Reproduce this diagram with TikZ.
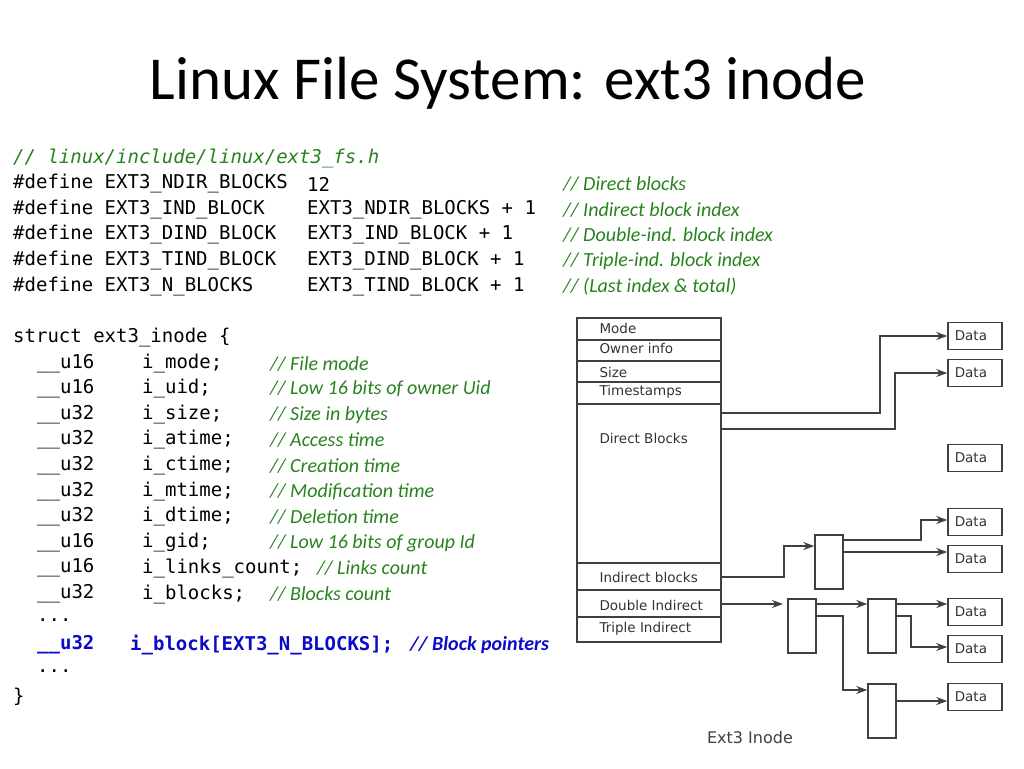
\documentclass[tikz,border=0pt]{standalone}
\usepackage{fontspec}
\setmainfont{Carlito}
\newfontfamily\codefont{DejaVu Sans Mono}
\newfontfamily\figfont{DejaVu Sans}
\usetikzlibrary{positioning,arrows.meta}

\definecolor{cmtgreen}{RGB}{40,130,30}
\definecolor{ptrblue}{RGB}{10,10,200}

\tikzset{
    code/.style={anchor=west, inner sep=0pt, font=\codefont\fontsize{19}{19}\selectfont},
    cmt/.style={anchor=west, inner sep=0pt, text=cmtgreen, font=\itshape\fontsize{20}{20}\selectfont},
    field/.style={draw=black!75, line width=1.5pt, minimum width=144pt, anchor=north west, inner sep=0pt},
    lbl/.style={font=\figfont\fontsize{13.5}{13.5}\selectfont, text=black!80},
    blk/.style={draw=black!75, line width=1.5pt, minimum width=54pt, minimum height=27pt, inner sep=0pt},
    ptr/.style={draw=black!75, line width=1.5pt, minimum width=28pt, minimum height=54pt, inner sep=0pt},
    link/.style={draw=black!75, line width=1.5pt, -{Stealth[length=11pt,width=8pt]}}
}

\begin{document}
\begin{tikzpicture}[x=1pt,y=-1pt]
    \useasboundingbox (0,0) rectangle (1024,768);
    \node (title) at (508,83) {\fontsize{61}{61}\selectfont Linux File System: ext3 inode};

    % header
    \node[code, text=cmtgreen] (h0) at (13,158) {\itshape // linux/include/linux/ext3\_fs.h};
    \foreach \n/\y/\a/\b/\c in {
        1/184/EXT3\_NDIR\_BLOCKS/12/Direct blocks,
        2/210/EXT3\_IND\_BLOCK/EXT3\_NDIR\_BLOCKS + 1/Indirect block index,
        3/235/EXT3\_DIND\_BLOCK/EXT3\_IND\_BLOCK + 1/Double-ind. block index,
        4/261/EXT3\_TIND\_BLOCK/EXT3\_DIND\_BLOCK + 1/Triple-ind. block index,
        5/287/EXT3\_N\_BLOCKS/EXT3\_TIND\_BLOCK + 1/(Last index \& total)}{
        \node[code] (d\n) at (13,\y) {\#define \a};
        \node[code] (v\n) at (307,\y) {\b};
        \node[cmt] (c\n) at (563,\y) {// \c};
    }

    % struct
    \node[code] (s0) at (13,338) {struct ext3\_inode \{};
    \foreach \n/\y/\t/\f/\c in {
        1/364/\_\_u16/i\_mode;/File mode,
        2/389/\_\_u16/i\_uid;/Low 16 bits of owner Uid,
        3/415/\_\_u32/i\_size;/Size in bytes,
        4/440/\_\_u32/i\_atime;/Access time,
        5/466/\_\_u32/i\_ctime;/Creation time,
        6/492/\_\_u32/i\_mtime;/Modification time,
        7/517/\_\_u32/i\_dtime;/Deletion time,
        8/543/\_\_u16/i\_gid;/Low 16 bits of group Id}{
        \node[code] (t\n) at (37,\y) {\t};
        \node[code] (f\n) at (142,\y) {\f};
        \node[cmt] (m\n) at (270,\y) {// \c};
    }
    \node[code] (t9) at (37,568) {\_\_u16};
    \node[code] (f9) at (142,568) {i\_links\_count;};
    \node[cmt] (m9) at (317,568) {// Links count};
    \node[code] (t10) at (37,594) {\_\_u32};
    \node[code] (f10) at (142,594) {i\_blocks;};
    \node[cmt] (m10) at (270,594) {// Blocks count};
    \node[code] (e1) at (37,620) {...};
    \node[code, text=ptrblue, font=\codefont\bfseries\fontsize{19}{19}\selectfont] (t11) at (37,645) {\_\_u32};
    \node[code, text=ptrblue, font=\codefont\bfseries\fontsize{19}{19}\selectfont] (f11) at (130,645) {i\_block[EXT3\_N\_BLOCKS];};
    \node[cmt, text=ptrblue, font=\bfseries\itshape\fontsize{20}{20}\selectfont] (m11) at (410,645) {// Block pointers};
    \node[code] (e2) at (37,671) {...};
    \node[code] (s1) at (13,697) {\}};

    % inode table
    \node[field, minimum height=22pt] (mode) at (576,317) {};
    \node[field, minimum height=21pt] (owner) at (576,339) {};
    \node[field, minimum height=21pt] (size) at (576,360) {};
    \node[field, minimum height=22pt] (time) at (576,381) {};
    \node[field, minimum height=159pt] (direct) at (576,403) {};
    \node[field, minimum height=27pt] (ind) at (576,562) {};
    \node[field, minimum height=27pt] (dind) at (576,589) {};
    \node[field, minimum height=25pt] (tind) at (576,616) {};
    \foreach \f/\t/\dy in {mode/Mode/0, owner/Owner info/2, size/Size/-1, time/Timestamps/1, ind/Indirect blocks/-1, dind/Double Indirect/-2, tind/Triple Indirect/0}{
        \node[lbl, anchor=west] at ([xshift=20pt,yshift=\dy pt]\f.west) {\t};
    }
    \node[lbl, anchor=west] at (596,438) {Direct Blocks};

    % data blocks
    \foreach \n/\y in {1/336, 2/373, 3/458, 4/522, 5/559, 6/612, 7/649, 8/697}{
        \node[blk] (data\n) at (975,\y) {};
        \node[lbl, anchor=west] at ([xshift=4pt]data\n.west) {Data};
    }

    % pointer blocks
    \node[ptr] (p1) at (829,562) {};
    \node[ptr] (p2) at (802,626) {};
    \node[ptr] (p3) at (882,626) {};
    \node[ptr] (p4) at (882,711) {};

    \coordinate (dfree) at (783,604);

    \draw[link] (direct.east |- 0,413) -| (880,336) -- (data1.west);
    \draw[link] (direct.east |- 0,429) -| (895,373) -- (data2.west);
    \draw[link] (ind.east |- 0,577) -| (784,546) -- (p1.west |- 0,546);
    \draw[link] (p1.east |- 0,540) -| (921,520) -- (data4.west |- 0,520);
    \draw[link] (p1.east |- 0,552) -- (data5.west |- 0,552);
    \draw[link] (dind.east |- 0,604) -- (dfree);
    \draw[link] (p2.east |- 0,604) -- (p3.west |- 0,604);
    \draw[link] (p2.east |- 0,616) -| (843,690) -- (p4.west |- 0,690);
    \draw[link] (p3.east |- 0,604) -- (data6.west |- 0,604);
    \draw[link] (p3.east |- 0,616) -| (911,647) -- (data7.west |- 0,647);
    \draw[link] (p4.east |- 0,701) -- (data8.west |- 0,701);

    \node[font=\figfont\fontsize{16}{16}\selectfont, text=black!75] (cap) at (750,738) {Ext3 Inode};
\end{tikzpicture}
\end{document}
